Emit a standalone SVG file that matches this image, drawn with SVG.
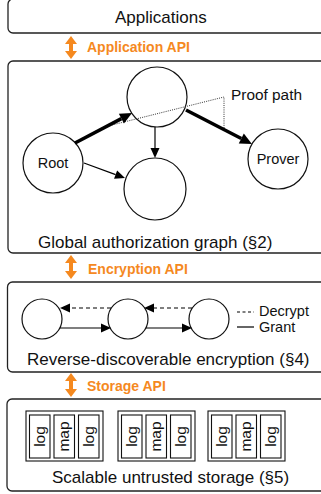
<svg xmlns="http://www.w3.org/2000/svg" width="321" height="494" viewBox="0 0 321 494">
<style>
.box{fill:#fff;stroke:#222;stroke-width:1.3}
.node{fill:#fff;stroke:#111;stroke-width:1.2}
.lbl{font-family:"Liberation Sans",Arial,sans-serif;font-size:17px;fill:#111}
.sm{font-family:"Liberation Sans",Arial,sans-serif;font-size:14.5px;fill:#111}
.rot{font-family:"Liberation Sans",Arial,sans-serif;font-size:15.5px;fill:#111}
.api{font-family:"Liberation Sans",Arial,sans-serif;font-size:14px;font-weight:bold;fill:#f5891f}
.dbl{fill:#f5891f}
.thick{stroke:#000;stroke-width:3.5;fill:none}
.thin{stroke:#000;stroke-width:1.2;fill:none}
.dash{stroke:#000;stroke-width:1.2;fill:none;stroke-dasharray:4 3}
.dot{stroke:#333;stroke-width:1;fill:none;stroke-dasharray:1 1.2}
.st{fill:#fff;stroke:#111;stroke-width:1.1}
</style>
<defs>
<marker id="bigHead" markerUnits="userSpaceOnUse" viewBox="0 -6 12 12" refX="0" refY="0" markerWidth="12" markerHeight="12" orient="auto" overflow="visible"><path d="M0,-5.5 L12,0 L0,5.5 z" fill="#000"/></marker>
<marker id="head" markerUnits="userSpaceOnUse" viewBox="0 -5 10 10" refX="0" refY="0" markerWidth="10" markerHeight="10" orient="auto" overflow="visible"><path d="M0,-4.5 L10,0 L0,4.5 z" fill="#000"/></marker>
</defs>

<g id="applications">
<rect class="box" x="8" y="-1" width="330" height="34" rx="5"/>
<text class="lbl" x="115" y="23">Applications</text>
</g>

<g id="application-api">
<path class="dbl" d="M71,36 L77,44 L73,44 L73,51 L77,51 L71,59 L65,51 L69,51 L69,44 L65,44 Z"/>
<text class="api" x="87" y="52">Application API</text>
</g>

<g id="authorization-graph">
<rect class="box" x="8" y="61" width="330" height="192" rx="5"/>
<text class="lbl" x="38" y="248">Global authorization graph (§2)</text>
</g>

<g id="node-top"><circle class="node" cx="157" cy="97" r="30"/></g>
<g id="node-root"><circle class="node" cx="53" cy="163" r="30"/><text class="sm" x="53" y="168" text-anchor="middle">Root</text></g>
<g id="node-bottom"><circle class="node" cx="155" cy="189" r="31"/></g>
<g id="node-prover"><circle class="node" cx="278" cy="159" r="30"/><text class="sm" x="278" y="164" text-anchor="middle">Prover</text></g>

<g id="encryption-api">
<path class="dbl" d="M71,255 L77,263 L73,263 L73,271 L77,271 L71,279 L65,271 L69,271 L69,263 L65,263 Z"/>
<text class="api" x="88" y="274">Encryption API</text>
</g>

<g id="encryption">
<rect class="box" x="7.5" y="282" width="330" height="90" rx="5"/>
<text class="lbl" x="27" y="365">Reverse-discoverable encryption (§4)</text>
</g>
<g id="enc-node-1"><circle class="node" cx="42" cy="319" r="20"/></g>
<g id="enc-node-2"><circle class="node" cx="128" cy="319" r="20"/></g>
<g id="enc-node-3"><circle class="node" cx="209" cy="319" r="20"/></g>
<g id="legend">
<line class="dash" x1="237" y1="312" x2="254" y2="312" style="stroke-dasharray:3 2.5"/>
<text class="sm" x="259" y="316">Decrypt</text>
<line class="thin" x1="237" y1="327" x2="254" y2="327"/>
<text class="sm" x="259" y="331.5">Grant</text>
</g>

<g id="storage-api">
<path class="dbl" d="M71,373 L77,381 L73,381 L73,389 L77,389 L71,397 L65,389 L69,389 L69,381 L65,381 Z"/>
<text class="api" x="87" y="391">Storage API</text>
</g>

<g id="storage">
<rect class="box" x="7" y="399" width="330" height="92" rx="5"/>
<text class="lbl" x="52" y="483">Scalable untrusted storage (§5)</text>
</g>
<g id="server-1">
<rect class="st" x="26" y="411" width="77" height="50"/>
<rect class="st" x="29.5" y="415" width="20.5" height="43"/>
<rect class="st" x="54" y="415" width="20.5" height="43"/>
<rect class="st" x="78.5" y="415" width="20.5" height="43"/>
<text class="rot" transform="translate(44.5,436.5) rotate(-90)" text-anchor="middle">log</text>
<text class="rot" transform="translate(69,436.5) rotate(-90)" text-anchor="middle">map</text>
<text class="rot" transform="translate(93.5,436.5) rotate(-90)" text-anchor="middle">log</text>
</g>
<g id="server-2">
<rect class="st" x="118" y="411" width="77" height="50"/>
<rect class="st" x="121.5" y="415" width="20.5" height="43"/>
<rect class="st" x="146" y="415" width="20.5" height="43"/>
<rect class="st" x="170.5" y="415" width="20.5" height="43"/>
<text class="rot" transform="translate(136.5,436.5) rotate(-90)" text-anchor="middle">log</text>
<text class="rot" transform="translate(161,436.5) rotate(-90)" text-anchor="middle">map</text>
<text class="rot" transform="translate(185.5,436.5) rotate(-90)" text-anchor="middle">log</text>
</g>
<g id="server-3">
<rect class="st" x="208" y="411" width="77" height="50"/>
<rect class="st" x="211.5" y="415" width="20.5" height="43"/>
<rect class="st" x="236" y="415" width="20.5" height="43"/>
<rect class="st" x="260.5" y="415" width="20.5" height="43"/>
<text class="rot" transform="translate(226.5,436.5) rotate(-90)" text-anchor="middle">log</text>
<text class="rot" transform="translate(251,436.5) rotate(-90)" text-anchor="middle">map</text>
<text class="rot" transform="translate(275.5,436.5) rotate(-90)" text-anchor="middle">log</text>
</g>

<g id="connectors">
<path class="dot" d="M108,126 L224,97 L224,129"/>
<line class="thick" x1="75" y1="143" x2="121.4" y2="118.6" marker-end="url(#bigHead)"/>
<line class="thick" x1="186" y1="110" x2="241.3" y2="138.5" marker-end="url(#bigHead)"/>
<line class="thin" x1="155" y1="127" x2="155" y2="148" marker-end="url(#head)"/>
<line class="thin" x1="84" y1="163" x2="115.6" y2="174.6" marker-end="url(#head)"/>
<text class="sm" x="231" y="100" style="font-size:15.4px">Proof path</text>
<line class="dash" x1="111" y1="308" x2="70" y2="308" marker-end="url(#head)"/>
<line class="dash" x1="192" y1="308" x2="154" y2="308" marker-end="url(#head)"/>
<line class="thin" x1="60" y1="328" x2="101" y2="328" marker-end="url(#head)"/>
<line class="thin" x1="146" y1="328" x2="182" y2="328" marker-end="url(#head)"/>
</g>
</svg>
